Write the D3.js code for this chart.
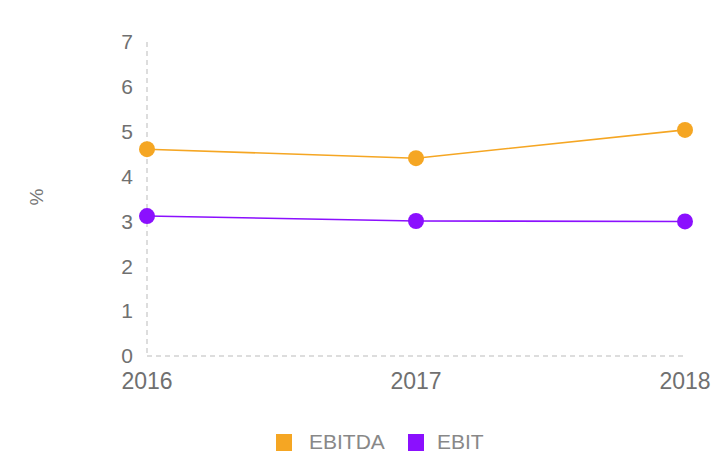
<!DOCTYPE html>
<html>
<head>
<meta charset="utf-8">
<script src="https://cdn.jsdelivr.net/npm/d3@7"></script>
<style>
  html, body { margin: 0; padding: 0; background: #fff; }
  svg { display: block; font-family: "Liberation Sans", Arial, sans-serif; }
</style>
</head>
<body>
<svg id="chart" width="726" height="453"></svg>
<script>
// Margins over the years (percent)
const years = ["2016", "2017", "2018"];
const ebitda = [4.61, 4.41, 5.04];
const ebit = [3.12, 3.01, 3.0];
const yTicks = [0, 1, 2, 3, 4, 5, 6, 7];
const seriesNames = ["EBITDA", "EBIT"];
const seriesColors = ["#F5A623", "#8B10FE"];

const svg = d3.select("#chart");
const plotLeft = 147, plotRight = 685, plotTop = 42, plotBottom = 356;

const x = d3.scalePoint().domain(years).range([plotLeft, plotRight]);
const y = d3.scaleLinear().domain([0, 7]).range([plotBottom, plotTop]);

// Axis lines (dashed)
svg.append("line")
  .attr("x1", plotLeft).attr("x2", plotLeft).attr("y1", plotTop).attr("y2", plotBottom)
  .attr("stroke", "#bbb").attr("stroke-width", 1).attr("stroke-dasharray", "5,4");
svg.append("line")
  .attr("x1", plotLeft).attr("x2", plotRight).attr("y1", plotBottom).attr("y2", plotBottom)
  .attr("stroke", "#bbb").attr("stroke-width", 1).attr("stroke-dasharray", "5,4");

// Y tick labels
svg.append("g").selectAll("text").data(yTicks).join("text")
  .attr("x", plotLeft - 14).attr("y", d => y(d)).attr("dy", "0.35em")
  .attr("text-anchor", "end").attr("font-size", 21).attr("fill", "#707070")
  .text(d => d);

// X tick labels
svg.append("g").selectAll("text").data(years).join("text")
  .attr("x", d => x(d)).attr("y", 389)
  .attr("text-anchor", "middle").attr("font-size", 23).attr("fill", "#707070")
  .text(d => d);

// Y axis title
svg.append("text")
  .attr("transform", "translate(43,197) rotate(-90)")
  .attr("text-anchor", "middle").attr("font-size", 19).attr("fill", "#777")
  .text("%");

const series = [ebitda, ebit];
const line = d3.line().x((d, i) => x(years[i])).y(d => y(d));

series.forEach((vals, s) => {
  svg.append("path").datum(vals)
    .attr("d", line).attr("fill", "none")
    .attr("stroke", seriesColors[s]).attr("stroke-width", 1.6);
  svg.append("g").selectAll("circle").data(vals).join("circle")
    .attr("cx", (d, i) => x(years[i])).attr("cy", d => y(d))
    .attr("r", 8).attr("fill", seriesColors[s]);
});

// Legend
const legendX = [276, 408];
seriesNames.forEach((name, i) => {
  const g = svg.append("g").attr("transform", `translate(${legendX[i]},432)`);
  g.append("rect").attr("y", 2).attr("width", 16).attr("height", 17).attr("fill", seriesColors[i]);
  g.append("text").attr("x", i === 0 ? 33 : 29).attr("y", 17)
    .attr("font-size", 21).attr("fill", "#888").text(name);
});
</script>
</body>
</html>
